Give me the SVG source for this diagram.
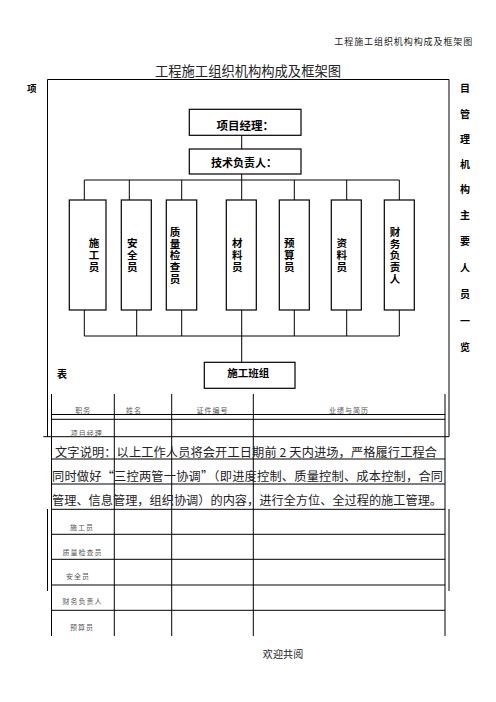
<svg xmlns="http://www.w3.org/2000/svg" width="496" height="702" viewBox="0 0 496 702">
<style>
.ln{stroke:#000;stroke-width:1;fill:none}
.bx{stroke:#000;stroke-width:1.2;fill:#fff}
.b{font-family:"Noto Sans CJK SC","Liberation Sans",sans-serif;font-weight:bold;fill:#000;text-anchor:middle}
.v{font-family:"Noto Sans CJK SC","Liberation Sans",sans-serif;font-weight:bold;fill:#000;text-anchor:middle;font-size:10.5px;letter-spacing:1.2px;writing-mode:vertical-rl;text-orientation:upright}
.t{font-family:"Noto Sans CJK SC","Liberation Sans",sans-serif;fill:#222}
.s{font-family:"Noto Sans CJK SC","Liberation Sans",sans-serif;fill:#555;font-size:7px;text-anchor:middle;letter-spacing:1px}
</style>
<rect width="496" height="702" fill="#fff"/>
<text class="t" x="334.3" y="45" font-size="9" textLength="138" fill="#333">工程施工组织机构构成及框架图</text>
<text class="t" x="155" y="75.5" font-size="13.3" textLength="186" fill="#333">工程施工组织机构构成及框架图</text>
<g id="side-labels">
<text class="b" x="31.7" y="91.5" font-size="9.5">项</text>
<text class="b" x="62" y="377.5" font-size="10">表</text>
<g font-size="10">
<text class="b" x="465" y="91.5">目</text>
<text class="b" x="465" y="117.5">管</text>
<text class="b" x="465" y="142.5">理</text>
<text class="b" x="465" y="167.5">机</text>
<text class="b" x="465" y="192.5">构</text>
<text class="b" x="465" y="218.5">主</text>
<text class="b" x="465" y="244.5">要</text>
<text class="b" x="465" y="271.5">人</text>
<text class="b" x="465" y="297.5">员</text>
<text class="b" x="465" y="324.5">一</text>
<text class="b" x="465" y="350.5">览</text>
</g>
</g>
<g id="frame">
<path class="ln" d="M47.5,436.7V79.5H449V436.7M47.5,509V591M449,509V591"/>
</g>
<g id="connectors">
<path class="ln" d="M241.7,135.3V149M241.7,174V180M84.3,180H399.3M84.3,180V200M129.3,180V200M181.7,180V200M241.7,180V200M294.3,180V200M346.7,180V200M399.3,180V200"/>
<path class="ln" d="M84.3,310V336M136.7,310V336M181.7,310V336M241.7,310V336M294.3,310V336M346.7,310V336M399.3,310V336M84.3,336H399.3M241.7,336V362.3"/>
</g>
<g id="pm"><rect class="bx" x="189.3" y="109.3" width="111.7" height="26"/><text class="b" x="245.3" y="130" font-size="11.5">项目经理：</text></g>
<g id="tech"><rect class="bx" x="189.3" y="149" width="111.7" height="25"/><text class="b" x="244" y="167.3" font-size="11">技术负责人：</text></g>
<g id="n1"><rect class="bx" x="69.3" y="200" width="36.7" height="110"/><text class="v" x="94" y="255.6">施工员</text></g>
<g id="n2"><rect class="bx" x="121.3" y="200" width="30" height="110"/><text class="v" x="132.3" y="255.6">安全员</text></g>
<g id="n3"><rect class="bx" x="166.3" y="200" width="30.4" height="110"/><text class="v" x="175" y="256">质量检查员</text></g>
<g id="n4"><rect class="bx" x="226.3" y="200" width="30" height="110"/><text class="v" x="237.3" y="255.6">材料员</text></g>
<g id="n5"><rect class="bx" x="279.3" y="200" width="30" height="110"/><text class="v" x="289.3" y="255.6">预算员</text></g>
<g id="n6"><rect class="bx" x="331.3" y="200" width="30" height="110"/><text class="v" x="341.7" y="255.6">资料员</text></g>
<g id="n7"><rect class="bx" x="384.3" y="200" width="30" height="110"/><text class="v" x="395" y="256">财务负责人</text></g>
<g id="team"><rect class="bx" x="204.3" y="362.3" width="90.7" height="26"/><text class="b" x="248.3" y="377.3" font-size="10.5">施工班组</text></g>
<g id="table">
<path class="ln" d="M51.5,394V636M114.3,394V636M171.7,394V636M253.3,394V636M445,394V636"/>
<path class="ln" d="M51.5,414.5H445M51.5,419.3H445M43.3,436.7H449M51.5,459H445M51.5,484H445M51.5,509.3H445M51.5,534.3H445M51.5,559.3H445M51.5,585H445M51.5,610.3H445"/>
<text class="s" x="83.3" y="413">职务</text>
<text class="s" x="134" y="413">姓名</text>
<text class="s" x="212.5" y="413">证件编号</text>
<text class="s" x="349" y="413">业绩与简历</text>
<text class="s" x="86.7" y="435.5">项目经理</text>
<text class="s" x="82" y="530">施工员</text>
<text class="s" x="82.5" y="554.5">质量检查员</text>
<text class="s" x="78" y="578.8">安全员</text>
<text class="s" x="82.5" y="604">财务负责人</text>
<text class="s" x="82" y="630">预算员</text>
</g>
<g id="note">
<text class="t" x="55" y="456.8" font-size="12.2" textLength="382">文字说明：以上工作人员将会开工日期前 2 天内进场，严格履行工程合</text>
<text class="t" x="52" y="481" font-size="12.2" textLength="391">同时做好“三控两管一协调”（即进度控制、质量控制、成本控制，合同</text>
<text class="t" x="52" y="505" font-size="12.2" textLength="390">管理、信息管理，组织协调）的内容，进行全方位、全过程的施工管理。</text>
</g>
<text class="t" x="262.7" y="658" font-size="10" textLength="40.6" fill="#333">欢迎共阅</text>
</svg>
